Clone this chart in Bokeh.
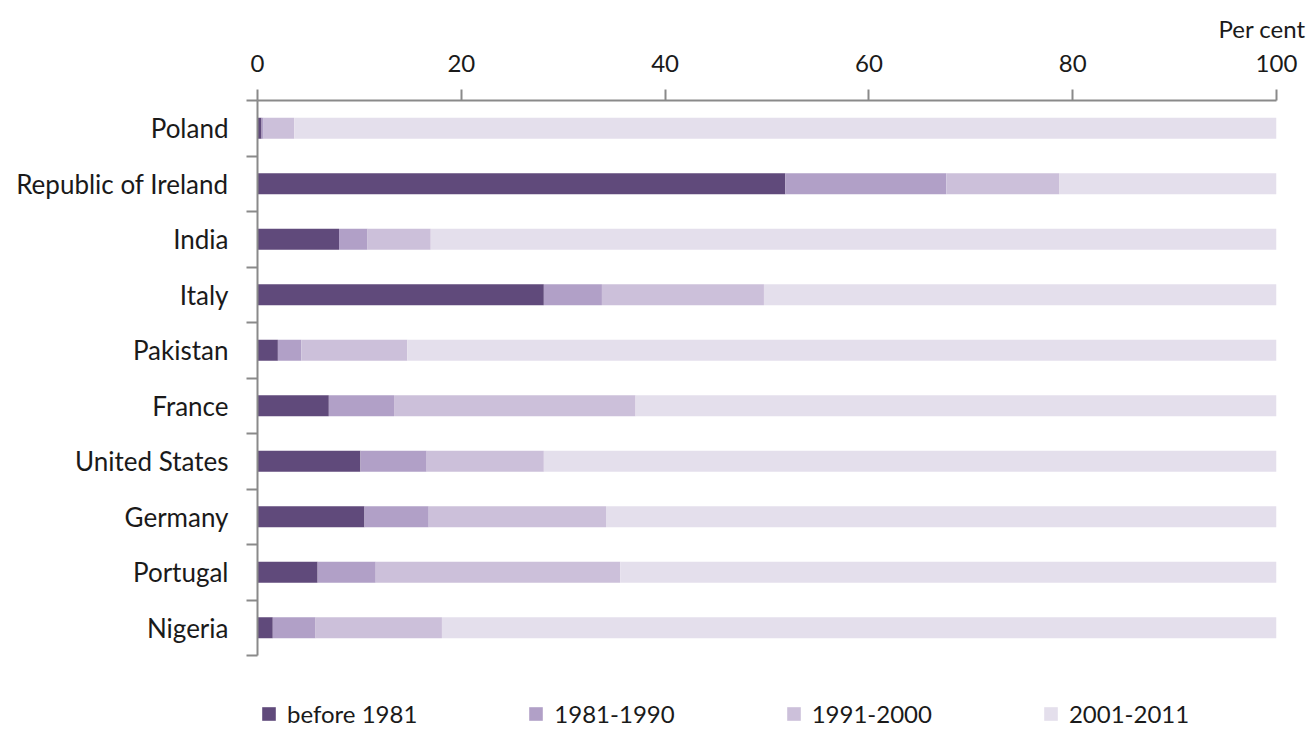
from bokeh.plotting import figure
from bokeh.models import (Range1d, LinearAxis, FixedTicker, Legend, LegendItem,
                          ColumnDataSource)
from bokeh.embed import file_html
from bokeh.resources import INLINE

countries = ["Poland", "Republic of Ireland", "India", "Italy", "Pakistan", "France",
             "United States", "Germany", "Portugal", "Nigeria"]
periods = ["before 1981", "1981-1990", "1991-2000", "2001-2011"]
before_1981 = [0.4, 51.8, 8.0, 28.1, 2.0, 7.0, 10.1, 10.5, 5.9, 1.5]
y1981_1990 = [0.2, 15.8, 2.8, 5.7, 2.3, 6.4, 6.5, 6.3, 5.7, 4.2]
y1991_2000 = [3.0, 11.1, 6.2, 15.9, 10.4, 23.7, 11.5, 17.4, 24.0, 12.4]
y2001_2011 = [96.4, 21.3, 83.0, 50.3, 85.3, 62.9, 71.9, 65.8, 64.4, 81.9]
x_ticks = [0, 20, 40, 60, 80, 100]
colors = ["#604a7b", "#b1a0c7", "#ccc0da", "#e4dfec"]

FONT = "Lato"
TXT = "#1a1a1a"
AX = "#8a8a8a"

n = len(countries)
slot = [n - i - 0.5 for i in range(n)]   # category slot centres, first at top

src = ColumnDataSource(data={"slot": slot, periods[0]: before_1981,
                             periods[1]: y1981_1990, periods[2]: y1991_2000,
                             periods[3]: y2001_2011})

W, H = 1306, 728
TOP, LEFT, RIGHT_EDGE, CAT_BOTTOM = 100, 257, 1276, 655
px_per_slot = (CAT_BOTTOM - TOP) / n
extra = (H - CAT_BOTTOM) / px_per_slot     # room under the categories for the legend

p = figure(width=W, height=H, output_backend="svg", toolbar_location=None,
           y_range=Range1d(-extra, n), x_range=Range1d(0, 100),
           x_axis_location="above", y_axis_location=None,
           min_border_left=LEFT, min_border_right=W - RIGHT_EDGE,
           min_border_top=TOP, min_border_bottom=0)
p.outline_line_color = None
p.xgrid.visible = False
p.ygrid.visible = False

p.title.text = "Per cent"
p.title.align = "right"
p.title.offset = -29
p.title.text_font = FONT
p.title.text_font_size = "24px"
p.title.text_font_style = "normal"
p.title.text_color = TXT
p.title.standoff = 18

xa = p.xaxis[0]
xa.ticker = FixedTicker(ticks=x_ticks)
xa.minor_tick_line_color = None
xa.major_tick_in = 0
xa.major_tick_out = 11
xa.axis_line_color = AX
xa.axis_line_width = 2
xa.major_tick_line_color = AX
xa.major_tick_line_width = 2
xa.major_label_text_font = FONT
xa.major_label_text_font_size = "24px"
xa.major_label_text_color = TXT
xa.major_label_standoff = 18

# boundary tick axis (no labels)
ya = LinearAxis(ticker=FixedTicker(ticks=list(range(n + 1))), bounds=(0, n),
                major_label_overrides={i: "" for i in range(n + 1)})
ya.major_label_text_font_size = "0px"
ya.minor_tick_line_color = None
ya.major_tick_in = 0
ya.major_tick_out = 11
ya.major_label_standoff = 0
ya.axis_line_color = AX
ya.axis_line_width = 2
ya.major_tick_line_color = AX
ya.major_tick_line_width = 2
p.add_layout(ya, "left")

# category label axis
ca = LinearAxis(ticker=FixedTicker(ticks=slot), bounds=(0, n),
                major_label_overrides={s: c for s, c in zip(slot, countries)})
ca.axis_line_color = None
ca.major_tick_line_color = None
ca.minor_tick_line_color = None
ca.major_label_text_font = FONT
ca.major_label_text_font_size = "26px"
ca.major_label_text_color = TXT
ca.major_label_standoff = 12
p.add_layout(ca, "left")

rs = p.hbar_stack(periods, y="slot", height=0.38, color=colors, line_color=None, source=src)

legend = Legend(items=[LegendItem(label=per, renderers=[r]) for per, r in zip(periods, rs)],
                orientation="horizontal", location=(3, 0),
                glyph_width=17, glyph_height=17, label_standoff=10, spacing=110,
                label_text_font=FONT, label_text_font_size="24px", label_text_color=TXT,
                border_line_color=None, background_fill_alpha=0, padding=0, margin=0)
p.add_layout(legend, "center")

open("out.html", "w").write(file_html(p, INLINE))
